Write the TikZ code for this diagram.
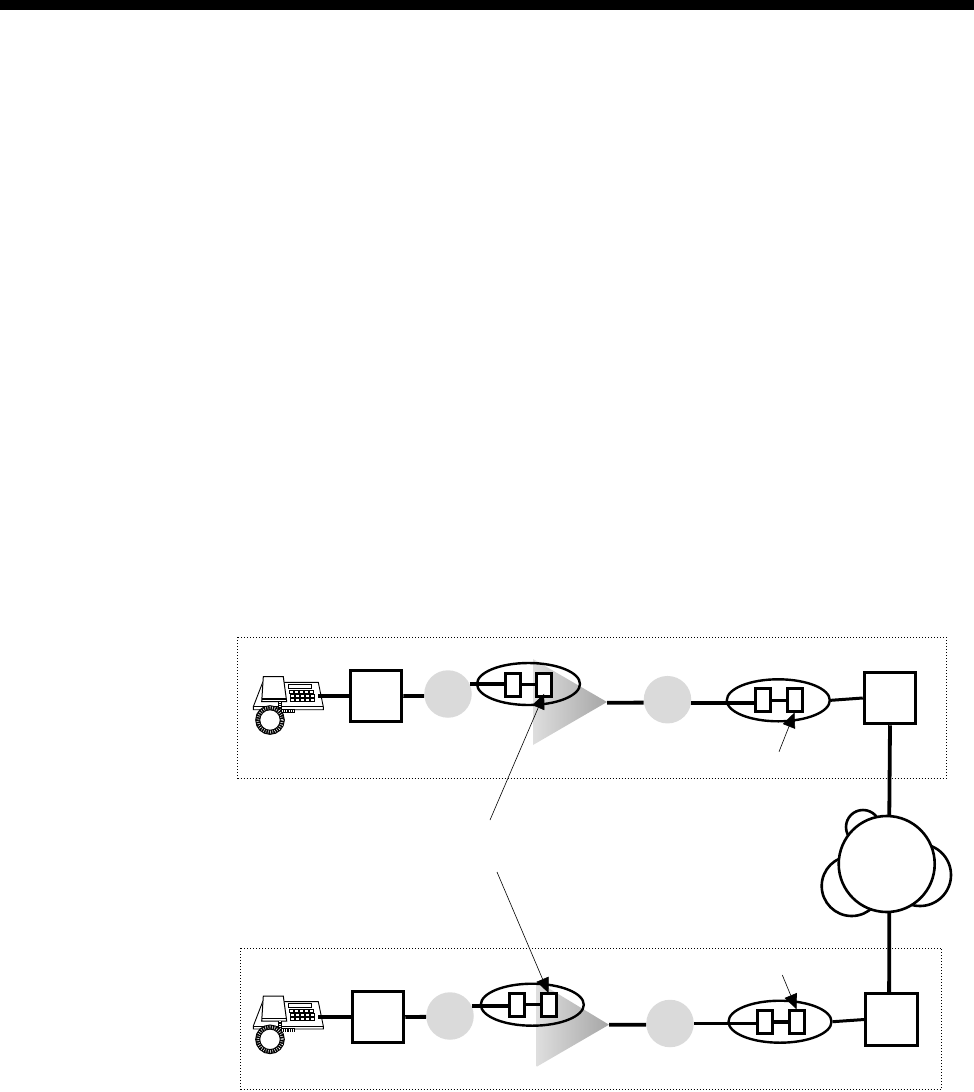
\documentclass[tikz,border=0pt]{standalone}
\usetikzlibrary{arrows.meta,shapes.geometric}
\definecolor{hubgray}{HTML}{DADADA}
\tikzset{
  link/.style={line width=3.8pt},
  leader/.style={-{Triangle[length=15pt,width=13pt]},line width=.6pt},
  panel/.style={line width=1pt,dash pattern=on 1pt off 2pt},
  box/.style={draw,line width=3pt,fill=white,minimum size=51.5pt,inner sep=0pt},
  slot/.style={draw,line width=3pt,fill=white,minimum width=15pt,minimum height=23pt,inner sep=0pt},
  hub/.style={circle,fill=hubgray,minimum size=47.5pt,inner sep=0pt},
  oval/.style={ellipse,draw,line width=2.4pt,minimum width=103pt,minimum height=42pt,inner sep=0pt},
  puff/.style={circle,draw,line width=2.6pt,fill=white,inner sep=0pt},
  pics/deskphone/.style={code={
    % body
    \draw[fill=white,line width=.9pt] (-25.3,-13.7) -- (30.3,-13.7) -- (35.3,10.7) -- (35.3,13.7)
      -- (-34.7,13.7) -- (-34.7,10.7) -- cycle;
    \draw[line width=.7pt] (-34.7,10.7) -- (35.3,10.7);
    % handset
    \draw[fill=white,line width=1pt] (-24.7,-19.3) -- (-4.7,-19.3) -- (-1.3,5.7) -- (-26.3,5.7) -- cycle;
    \draw[line width=1.4pt] (-25.9,3) -- (-1.7,3);
    % display and keys
    \draw[fill=white,line width=1.1pt] (.3,-11.7) rectangle (23.7,-7.7);
    \foreach \r in {0,1,2}
      \foreach \c in {0,...,4}
        \draw[fill=white,line width=1pt] (1.5+\c*5+\r*.5,-5.5+\r*4) rectangle +(4,3);
    % cord
    \draw[line width=4pt] (-8,6) -- (-8,15) -- (7,15);
    \draw[white,line width=2.6pt,dash pattern=on .5pt off 1.7pt] (-8,6) -- (-8,15) -- (7,15);
    \draw[line width=5pt] (-18,24) circle (12.3);
    \draw[white,line width=3pt,dash pattern=on .5pt off 1.8pt] (-18,24) circle (12.3);
    \coordinate (-jack) at (30,0);
  }}
}
\begin{document}
\begin{tikzpicture}[x=1pt,y=-1pt]
  \useasboundingbox (0,0) rectangle (974,1092);
  \fill (0,0) rectangle (974,10);
  % upper panel
  \draw[panel] (237.5,637) rectangle (946,778);
  \shade[left color=black!13,right color=black!35] (533,659) -- (533,745) -- (607,702) -- cycle;
  \coordinate (tipa) at (607,702.7);
  \pic (phonea) at (288,696) {deskphone};
  \node[box] (boxa) at (376,696) {};
  \node[hub] (huba) at (448,694) {};
  \node[oval] (ovala) at (528.5,684) {};
  \node[slot] (slota) at (512.7,684.5) {};
  \node[slot] (slotb) at (544.2,684.5) {};
  \node[hub] (hubb) at (667.5,699.7) {};
  \node[oval] (ovalb) at (778.3,700.3) {};
  \node[slot] (slotc) at (762.7,700) {};
  \node[slot] (slotd) at (794.5,700) {};
  \node[box] (boxb) at (890,698) {};
  \draw[link] (phonea-jack |- boxa) -- (boxa.west);
  \draw[link] (boxa.east) -- (huba.185);
  \draw[link] (huba.25) -- (huba.25 -| slota.west);
  \draw[line width=3pt] (slota.east) -- (slotb.west);
  \draw[link] (tipa) -- (hubb.187);
  \draw[link] (hubb.-7) -- (hubb.-7 -| slotc.west);
  \draw[line width=3pt] (slotc.east) -- (slotd.west);
  \draw[line width=3pt] (ovalb.east) -- (boxb.west);
  % cloud
  \node[puff,minimum size=34pt] (bumpa) at (863,827) {};
  \node[puff,minimum size=60pt] (bumpb) at (851.7,886) {};
  \node[puff,minimum size=62pt] (bumpc) at (920,875) {};
  \node[puff,minimum size=96pt] (cloud) at (886.7,864) {};
  \draw[link] (boxb.south) -- (cloud.87);
  % lower panel
  \draw[panel] (240.7,948) rectangle (941.7,1089);
  \shade[left color=black!13,right color=black!35] (536.7,981) -- (536.7,1066.7) -- (609,1024.7) -- cycle;
  \coordinate (tipb) at (609,1024.7);
  \pic (phoneb) at (288,1015.3) {deskphone};
  \node[box] (boxc) at (378,1017) {};
  \node[hub] (hubc) at (450,1016) {};
  \node[oval] (ovalc) at (532.3,1004.7) {};
  \node[slot] (slote) at (516.5,1004.5) {};
  \node[slot] (slotf) at (548.5,1004.5) {};
  \node[hub] (hubd) at (670,1023.5) {};
  \node[oval] (ovald) at (780,1021.7) {};
  \node[slot] (slotg) at (764.5,1021.8) {};
  \node[slot] (sloth) at (796.5,1021.8) {};
  \node[box] (boxd) at (891.5,1019.5) {};
  \draw[link] (phoneb-jack |- boxc) -- (boxc.west);
  \draw[link] (boxc.east) -- (hubc.182);
  \draw[link] (hubc.25) -- (hubc.25 -| slote.west);
  \draw[line width=3pt] (slote.east) -- (slotf.west);
  \draw[link] (tipb) -- (hubd.183);
  \draw[link] (hubd.east) -- (hubd.east -| slotg.west);
  \draw[link] (slotg.east) -- (sloth.west);
  \draw[line width=3pt] (ovald.east) -- (boxd.west);
  \draw[link] (cloud.-87) -- (boxd.95);
  % leaders
  \coordinate (freea) at (490,820);
  \coordinate (freeb) at (497,872);
  \coordinate (freec) at (779,751.7);
  \coordinate (freed) at (782.3,975);
  \draw[leader] (freea) -- ([yshift=3.7pt]slotb.south);
  \draw[leader] (freeb) -- ([yshift=-1.5pt]slotf.north);
  \draw[leader] (freec) -- ([yshift=.5pt]slotd.south);
  \draw[leader] (freed) -- ([yshift=-.5pt]sloth.north);
\end{tikzpicture}
\end{document}
